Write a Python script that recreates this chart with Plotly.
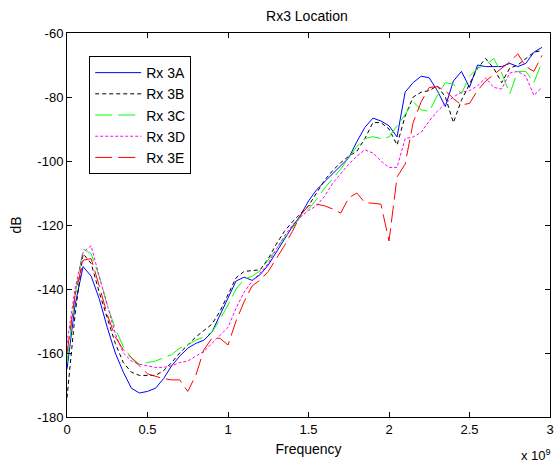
import plotly.graph_objects as go

# Frequency grid in GHz (converted to Hz for plotting)
freq_ghz = [round(i * 0.05, 2) for i in range(60)]

rx3a = [-165, -145, -133, -136, -143, -152, -160, -166, -171, -172.5,
        -172, -171, -168, -164, -161, -158.5, -157, -156, -153.5, -148,
        -143, -137.5, -136.3, -137.3, -135.5, -132.5, -128.5, -124.5, -120.5, -117,
        -112.5, -109, -106.5, -104, -101.5, -99, -94, -89.5, -86.6, -87.5,
        -89, -92.5, -78.5, -75.5, -73.5, -74, -78, -83, -75, -72,
        -77, -70, -70.5, -70.5, -70.5, -69.5, -70.5, -69.5, -66, -64.5]

rx3b = [-174, -148, -129, -132, -141, -149, -157, -163, -166, -167,
        -167, -167, -165.5, -163, -160, -157.5, -155, -153, -151, -147,
        -141.5, -136.5, -134.5, -134.3, -134, -130.5, -126, -122, -119, -116.5,
        -114, -110, -106, -103, -100.5, -98.5, -97, -93, -88, -88,
        -90, -95, -86, -80, -78.5, -78, -76.5, -80, -88, -81,
        -76, -71, -68, -71, -75.5, -71, -70, -68, -66, -65.5]

rx3c = [-163, -142, -127.5, -129, -136, -145, -152.5, -158, -161.5, -163.5,
        -163, -162.5, -161.5, -160.5, -158.5, -157.5, -156, -155, -153.5, -149.5,
        -145, -140, -137, -136, -134.3, -131, -127.5, -124, -121, -117.5,
        -115, -112, -108.5, -105.5, -102.5, -99, -95.5, -93, -92.4, -93,
        -92.5, -89, -85.5, -81.5, -84, -84.5, -79.5, -75.5, -76, -79,
        -73.5, -71, -70, -68, -72.5, -79, -72, -72, -75.5, -69]

rx3d = [-157, -140, -128.5, -126.5, -136, -145, -154, -160, -162.5, -163.5,
        -164, -164.5, -164.5, -164, -163, -162.5, -161, -159.5, -157, -154.5,
        -152, -146, -141, -137.5, -135, -132, -127.5, -123.5, -120, -117.5,
        -115.5, -114, -111, -107, -104, -101, -98.5, -96.5, -97.5, -100,
        -102, -102, -93, -92.5, -91, -87.5, -84.5, -82, -80, -78.5,
        -78, -76.5, -74, -77, -77.5, -72.5, -72, -73.5, -79.5, -77]

rx3e = [-160, -142, -131, -130.5, -139, -148, -155, -159, -161.5, -164,
        -166.5, -167.3, -168, -168.4, -168.4, -172, -167, -159, -155.4, -155.4,
        -157.5, -150, -144, -139, -137.2, -134.5, -130.5, -126.5, -122, -117,
        -114, -113.5, -114, -115, -116.3, -111.5, -110, -113, -113.2, -113.5,
        -125, -105, -101, -88, -81.5, -77, -76.8, -78, -80.5, -82.5,
        -82, -78, -75, -73, -71, -69, -66.5, -70.5, -72, -67]

series_names = ["Rx 3A", "Rx 3B", "Rx 3C", "Rx 3D", "Rx 3E"]
series_vals = [rx3a, rx3b, rx3c, rx3d, rx3e]
colors = ["#0000FF", "#000000", "#00FF00", "#FF00FF", "#FF0000"]
dashes = ["solid", "4px,3px", "17px,6px", "3px,2px", "17px,6px"]

x_tick_vals = [0, 0.5e9, 1e9, 1.5e9, 2e9, 2.5e9, 3e9]
x_tick_text = ["0", "0.5", "1", "1.5", "2", "2.5", "3"]
y_tick_vals = [-180, -160, -140, -120, -100, -80, -60]
y_tick_text = [str(v) for v in y_tick_vals]

freq_hz = [f * 1e9 for f in freq_ghz]

fig = go.Figure()
for name, vals, c, d in zip(series_names, series_vals, colors, dashes):
    fig.add_trace(go.Scatter(x=freq_hz, y=vals, mode="lines", name=name,
                             line=dict(color=c, width=1, dash=d)))

font_family = "Liberation Sans, Arial, sans-serif"
fig.update_layout(
    template="none",
    width=556, height=462,
    margin=dict(l=67, r=6, t=33, b=45),
    paper_bgcolor="white", plot_bgcolor="white",
    font=dict(family=font_family, size=13, color="black"),
    title=dict(text="Rx3 Location", x=0.552, xanchor="center",
               y=0.965, yanchor="middle",
               font=dict(size=14, color="black")),
    showlegend=True,
    legend=dict(x=0.046, y=0.94, xanchor="left", yanchor="top",
                bgcolor="white", bordercolor="black", borderwidth=1,
                font=dict(size=14, color="black"), itemwidth=46,
                tracegroupgap=0),
    xaxis=dict(range=[0, 3e9], tickvals=x_tick_vals, ticktext=x_tick_text,
               automargin=False,
               showgrid=False, zeroline=False, showline=True, linecolor="black",
               linewidth=1, mirror="ticks", ticks="inside", ticklen=5,
               tickcolor="black", tickfont=dict(size=13),
               title=dict(text="Frequency", font=dict(size=14), standoff=8)),
    yaxis=dict(range=[-180, -60], tickvals=y_tick_vals, ticktext=y_tick_text,
               automargin=False,
               showgrid=False, zeroline=False, showline=True, linecolor="black",
               linewidth=1, mirror="ticks", ticks="inside", ticklen=5,
               tickcolor="black", tickfont=dict(size=13),
               title=dict(text="dB", font=dict(size=14), standoff=12)),
)

fig.add_annotation(text="x 10<sup>9</sup>", xref="paper", yref="paper",
                   x=1.006, y=-0.099, xanchor="right", yanchor="middle",
                   showarrow=False, font=dict(size=13, color="black"))

fig.write_html("out.html", config={"displayModeBar": False},
               post_script="document.body.style.margin='0px';document.body.style.overflow='hidden';")
